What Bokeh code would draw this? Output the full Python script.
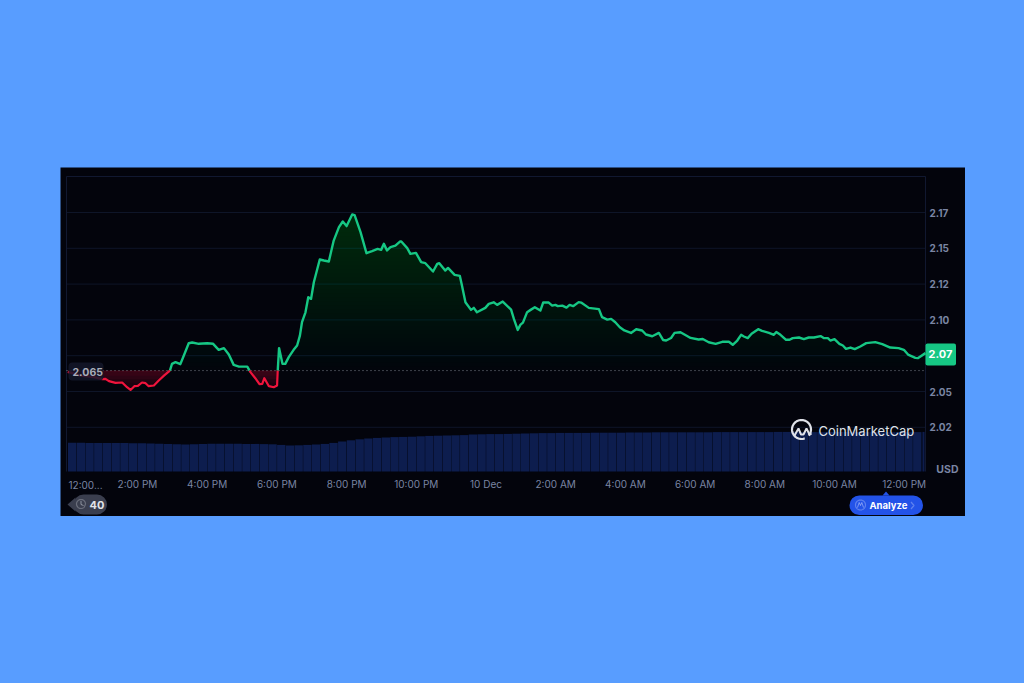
import math
import numpy as np
from bokeh.plotting import figure
from bokeh.models import Label, BoxAnnotation, PolyAnnotation, FixedTicker
from bokeh.embed import file_html
from bokeh.resources import INLINE

# ---------- data ----------
hours = [0.0, 0.36, 0.75, 0.99, 1.08, 1.18, 1.37, 1.56, 1.70, 1.80, 1.91, 2.01, 2.13, 2.23, 2.32, 2.47, 2.61, 2.76,
         2.93, 2.99, 3.09, 3.23, 3.33, 3.47, 3.57, 3.76, 4.00, 4.17, 4.33, 4.48, 4.62, 4.76, 4.91, 5.15, 5.24, 5.38,
         5.50, 5.58, 5.64, 5.77, 5.91, 6.005, 6.024, 6.062, 6.16, 6.24, 6.34, 6.48, 6.58, 6.66, 6.72, 6.82, 6.90,
         6.98, 7.06, 7.23, 7.35, 7.49, 7.63, 7.78, 7.89, 8.00, 8.16, 8.23, 8.40, 8.57, 8.73, 8.89, 8.99, 9.07, 9.16,
         9.26, 9.40, 9.53, 9.57, 9.74, 9.83, 9.99, 10.14, 10.26, 10.48, 10.60, 10.66, 10.83, 10.91, 11.10, 11.25,
         11.31, 11.41, 11.57, 11.65, 11.74, 11.98, 12.08, 12.22, 12.32, 12.48, 12.72, 12.80, 12.91, 12.99, 13.06,
         13.18, 13.28, 13.40, 13.56, 13.64, 13.80, 13.90, 13.99, 14.06, 14.19, 14.31, 14.40, 14.50, 14.66, 14.73,
         14.95, 15.24, 15.33, 15.48, 15.59, 15.71, 15.84, 15.97, 16.16, 16.31, 16.48, 16.59, 16.77, 16.96, 17.08,
         17.17, 17.31, 17.41, 17.58, 17.72, 17.87, 18.10, 18.22, 18.39, 18.59, 18.78, 18.97, 19.08, 19.21, 19.32,
         19.40, 19.51, 19.62, 19.81, 19.92, 20.12, 20.26, 20.33, 20.45, 20.61, 20.71, 20.80, 20.98, 21.12, 21.26,
         21.41, 21.60, 21.69, 21.81, 21.88, 22.00, 22.14, 22.24, 22.33, 22.46, 22.58, 22.74, 22.91, 23.17, 23.37,
         23.60, 23.84, 23.99, 24.11, 24.32, 24.39, 24.61]
prices = [2.0637, 2.0611, 2.0600, 2.0586, 2.0588, 2.0572, 2.0560, 2.0563, 2.0530, 2.0511, 2.0537, 2.0539, 2.0563,
          2.0558, 2.0537, 2.0542, 2.0577, 2.0611, 2.0646, 2.0693, 2.0705, 2.0691, 2.0751, 2.0837, 2.0842, 2.0833,
          2.0837, 2.0833, 2.0791, 2.0803, 2.0758, 2.0686, 2.0674, 2.0674, 2.0635, 2.0593, 2.0551, 2.0553, 2.0593,
          2.0537, 2.0530, 2.0542, 2.0646, 2.0803, 2.0693, 2.0693, 2.0740, 2.0791, 2.0821, 2.0890, 2.0984, 2.1053,
          2.1158, 2.1147, 2.1263, 2.1422, 2.1415, 2.1408, 2.1554, 2.1648, 2.1687, 2.1655, 2.1736, 2.1731, 2.1613,
          2.1466, 2.1480, 2.1496, 2.1489, 2.1531, 2.1485, 2.1508, 2.1519, 2.1547, 2.1547, 2.1501, 2.1461, 2.1468,
          2.1403, 2.1396, 2.1338, 2.1391, 2.1396, 2.1345, 2.1363, 2.1314, 2.1307, 2.1240, 2.1123, 2.1070, 2.1084,
          2.1053, 2.1084, 2.1112, 2.1123, 2.1105, 2.1128, 2.1072, 2.1007, 2.0930, 2.0967, 2.0981, 2.1054, 2.1070,
          2.1089, 2.1065, 2.1121, 2.1121, 2.1100, 2.1105, 2.1096, 2.1100, 2.1086, 2.1105, 2.1096, 2.1124, 2.1121,
          2.1084, 2.1075, 2.1019, 2.1002, 2.1007, 2.0984, 2.0949, 2.0926, 2.0909, 2.0935, 2.0926, 2.0898, 2.0886,
          2.0909, 2.0860, 2.0856, 2.0874, 2.0909, 2.0914, 2.0895, 2.0874, 2.0863, 2.0867, 2.0844, 2.0833, 2.0847,
          2.0847, 2.0826, 2.0856, 2.0896, 2.0884, 2.0873, 2.0903, 2.0935, 2.0924, 2.0910, 2.0896, 2.0915, 2.0896,
          2.0861, 2.0861, 2.0873, 2.0877, 2.0866, 2.0877, 2.0877, 2.0887, 2.0873, 2.0873, 2.0856, 2.0866, 2.0833,
          2.0821, 2.0798, 2.0807, 2.0796, 2.0814, 2.0838, 2.0845, 2.0831, 2.0807, 2.0803, 2.0791, 2.0758, 2.0735,
          2.0733, 2.0768]
baseline = 2.0646
volumes = [1.44, 1.44, 1.43, 1.43, 1.43, 1.42, 1.42, 1.41, 1.41, 1.40, 1.39, 1.37, 1.36, 1.35, 1.36, 1.38, 1.39, 1.39,
           1.39, 1.39, 1.38, 1.38, 1.37, 1.36, 1.33, 1.30, 1.31, 1.33, 1.35, 1.38, 1.43, 1.50, 1.56, 1.61, 1.65, 1.68,
           1.70, 1.72, 1.73, 1.74, 1.76, 1.78, 1.79, 1.80, 1.81, 1.82, 1.85, 1.86, 1.87, 1.87, 1.88, 1.89, 1.90, 1.91,
           1.92, 1.92, 1.93, 1.93, 1.93, 1.93, 1.94, 1.94, 1.94, 1.94, 1.95, 1.95, 1.95, 1.96, 1.96, 1.96, 1.96, 1.96,
           1.96, 1.96, 1.97, 1.97, 1.97, 1.97, 1.97, 1.97, 1.97, 1.98, 1.98, 1.98, 1.97, 1.97, 1.97, 1.98, 1.98, 1.98,
           1.97, 1.97, 1.97, 1.97, 1.97, 1.97, 1.97, 1.97]
last_volume = 1.98
x_tick_hours = [2, 4, 6, 8, 10, 12, 14, 16, 18, 20, 22, 24]
x_tick_labels = ["2:00 PM", "4:00 PM", "6:00 PM", "8:00 PM", "10:00 PM", "10 Dec", "2:00 AM", "4:00 AM", "6:00 AM",
                 "8:00 AM", "10:00 AM", "12:00 PM"]
y_tick_values = [2.025, 2.05, 2.075, 2.10, 2.125, 2.15, 2.175]
y_tick_labels = ["2.02", "2.05", "", "2.10", "2.12", "2.15", "2.17"]

# ---------- layout ----------
BG = "#03040c"
BLUE = "#589dff"
GREEN = "#16c784"
RED = "#f0143c"
TICK = "#7a85a3"
GRID = "#0e1528"
FONT = "Inter"
PX_PER_H = 34.85
PX_PER_USD = 1432.0
F_L, F_R, F_T, F_B = 66, 925, 176, 471     # chart area edges on the page
P_L, P_R, P_T, P_B = 60, 965, 167, 516     # dark panel edges on the page


def X(px):
    return (px - 67.3) / PX_PER_H


def Y(py):
    return 2.175 - (py - 212) / PX_PER_USD


# The plot frame is the whole dark panel, so axes, tags and buttons can all sit inside it.
p = figure(width=P_R - P_L, height=P_B - P_T, output_backend="svg", toolbar_location=None,
           x_range=(X(P_L), X(P_R)), y_range=(Y(P_B), Y(P_T)),
           min_border=0, background_fill_color=BG, border_fill_color=BG, outline_line_color=None,
           y_axis_location="right", margin=(P_T, 0, 0, P_L))

p.grid.visible = False

xa = p.xaxis[0]
xa.fixed_location = Y(F_B)
xa.ticker = FixedTicker(ticks=x_tick_hours)
xa.major_label_overrides = dict(zip(x_tick_hours, x_tick_labels))
ya = p.yaxis[0]
ya.fixed_location = X(F_R - 2)
ya.ticker = FixedTicker(ticks=y_tick_values)
ya.major_label_overrides = dict(zip(y_tick_values, y_tick_labels))
for ax in (xa, ya):
    ax.axis_line_color = None
    ax.major_tick_line_color = None
    ax.minor_tick_line_color = None
    ax.major_label_text_color = TICK
    ax.major_label_text_font = FONT
    ax.major_label_text_font_size = "10px"
    ax.major_label_text_font_style = "normal"
xa.major_label_standoff = 0
ya.major_label_standoff = 0
ya.major_label_text_font_style = "bold"

# grid lines and chart-area outline
p.segment(x0=[X(F_L)] * len(y_tick_values), x1=[X(F_R)] * len(y_tick_values), y0=y_tick_values, y1=y_tick_values,
          line_color=GRID, line_width=1)
p.segment(x0=[X(F_L), X(F_L), X(F_R)], x1=[X(F_R), X(F_L), X(F_R)], y0=[Y(F_T), Y(F_T), Y(F_T)],
          y1=[Y(F_T), Y(F_B), Y(F_B)], line_color="#111830", line_width=1)

# volume bars, on their own scale from the foot of the chart area
y_foot = Y(F_B)
vol_per_usd = 0.05 * PX_PER_USD
vol = np.array(volumes)
vol_x = 0.125 + 0.25 * np.arange(len(vol))
p.vbar(x=vol_x, width=0.24, bottom=y_foot, top=y_foot + vol / vol_per_usd, fill_color="#0d1d4e", line_color=None)
p.vbar(x=[X(923)], width=0.06, bottom=y_foot, top=y_foot + last_volume / vol_per_usd, fill_color="#0d1d4e",
       line_color=None)

# split the price line where it crosses the opening price
xs, ys = [hours[0]], [prices[0]]
for a, b, c, d in zip(hours[:-1], prices[:-1], hours[1:], prices[1:]):
    if (b - baseline) * (d - baseline) < 0:
        xs.append(a + (baseline - b) / (d - b) * (c - a))
        ys.append(baseline)
    xs.append(c)
    ys.append(d)
xs = np.array(xs)
ys = np.array(ys)

# green fill: stacked translucent layers fade towards the opening price
for level in np.linspace(baseline, 2.175, 40):
    p.varea(x=xs, y1=np.full_like(ys, level), y2=np.maximum(ys, level), fill_color="#12d07e", fill_alpha=0.0125)
# red fill: strongest next to the opening price
for level in np.linspace(2.051, baseline - 0.001, 6):
    p.varea(x=xs, y1=np.minimum(np.maximum(ys, level), baseline), y2=np.full_like(ys, baseline),
            fill_color="#e0143c", fill_alpha=0.055)

# opening-price dotted line
p.line([X(F_L), X(F_R)], [baseline, baseline], line_color="#7b7f8c", line_dash="1 3", line_width=1)

up = np.where(ys >= baseline - 1e-9, ys, np.nan)
down = np.where(ys <= baseline + 1e-9, ys, np.nan)
p.line(xs, up, line_color=GREEN, line_width=2.4, line_join="round")
p.line(xs, down, line_color=RED, line_width=2.2, line_join="round")


def txt(px, py, s, color=TICK, size="10px", style="normal", align="left"):
    p.add_layout(Label(x=X(px), y=Y(py), text=s, text_color=color, text_font=FONT, text_font_size=size,
                       text_font_style=style, text_align=align, text_baseline="middle"))


def box(l, r, t, b, color, radius=0, alpha=1.0):
    p.add_layout(BoxAnnotation(left=X(l), right=X(r), top=Y(t), bottom=Y(b), fill_color=color, fill_alpha=alpha,
                               line_color=None, border_radius=radius, level="annotation"))


def poly(pts, fill=None, line=None, width=1.5):
    p.add_layout(PolyAnnotation(xs=[X(a) for a, _ in pts], ys=[Y(b) for _, b in pts], fill_color=fill,
                                fill_alpha=1 if fill else 0, line_color=line, line_width=width, level="annotation"))


def ring(cx, cy, r, start=0, stop=360, n=40):
    return [(cx + r * math.cos(math.radians(a)), cy - r * math.sin(math.radians(a)))
            for a in np.linspace(start, stop, n)]


# truncated first tick, opening-price tag and USD caption
txt(68, 484, "12:00...")
box(68, 103, 362, 380, "#14172a", 4, 0.85)
txt(72, 371.5, "2.065", color="#a8acba", size="10.5px", style="bold")
txt(958, 468.5, "USD", style="bold", align="right", size="10.5px")

# latest price tag
box(925, 955.5, 343, 365, GREEN, 2)
txt(940, 353.5, "2.07", color="#ffffff", size="11px", style="bold", align="center")

# CoinMarketCap mark
wm = "#dfe1e8"
arc = ring(801, 429, 9.5, -40, 290)
p.line([X(a) for a, _ in arc], [Y(b) for _, b in arc], line_color=wm, line_width=2.2)
wave = [(794, 435), (798, 428), (800.5, 434), (803, 434), (806, 428), (809, 434), (811, 433)]
p.line([X(a) for a, _ in wave], [Y(b) for _, b in wave], line_color=wm, line_width=2)
txt(818, 430.5, "CoinMarketCap", color=wm, size="13px", style="normal")

# history badge
box(73, 106.5, 494, 514, "#3a3e4e", 10)
poly([(67, 504), (75, 497), (75, 511)], fill="#3a3e4e")
poly(ring(80.5, 503.5, 4.5, 0, 320), line="#d8dae2", width=1.2)
poly([(80.5, 500.5), (80.5, 504), (83, 505), (80.5, 504)], line="#d8dae2", width=1)
txt(89, 504, "40", color="#e2e4ea", size="11px", style="bold")

# Analyze button
box(849, 922.5, 495, 514.5, "#2353e8", 10)
poly([(882, 495), (885.5, 491), (889, 495)], fill="#2353e8")
poly(ring(860, 504.5, 5, 0, 360), line="#e8ecff", width=1.2)
poly([(857, 507), (858.7, 502), (860, 505), (861.3, 502), (863, 507), (861.3, 502), (860, 505), (858.7, 502)],
     line="#e8ecff", width=0.8)
txt(869, 505, "Analyze", color="#ffffff", size="9.5px", style="bold")
poly([(910.5, 501.5), (913.5, 505), (910.5, 508.5), (913.5, 505)], line="#e8ecff", width=1.2)

html = file_html(p, INLINE)
html = html.replace("<head>", "<head><style>html,body{background:%s;}</style>" % BLUE, 1)
open("out.html", "w").write(html)
